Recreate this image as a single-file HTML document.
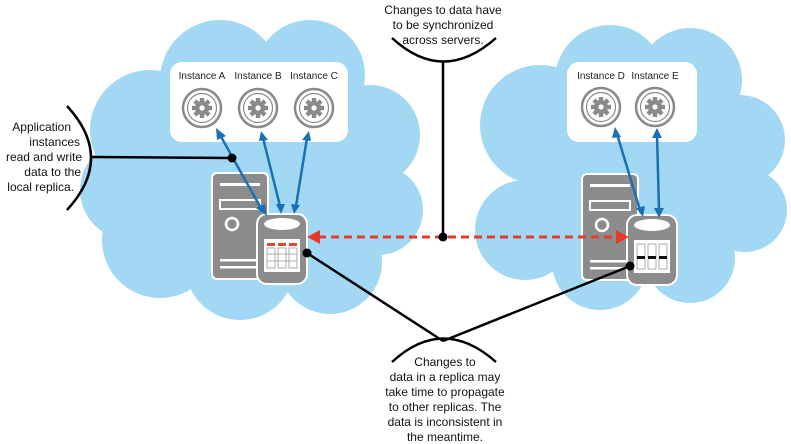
<!DOCTYPE html>
<html><head><meta charset="utf-8"><style>
html,body{margin:0;padding:0;background:#fff;}
svg{display:block;font-family:"Liberation Sans",sans-serif;}
</style></head><body>
<svg width="791" height="444" viewBox="0 0 791 444" xmlns="http://www.w3.org/2000/svg">
<defs>
<g id="gear">
<circle r="19" fill="#fff" stroke="#8a8a8a" stroke-width="2.5"/>
<circle r="14.5" fill="none" stroke="#8a8a8a" stroke-width="1.2"/>
<g fill="#8a8a8a">
<circle r="7"/>
<rect x="-2.2" y="-10" width="4.4" height="20"/>
<rect x="-2.2" y="-10" width="4.4" height="20" transform="rotate(45)"/>
<rect x="-2.2" y="-10" width="4.4" height="20" transform="rotate(90)"/>
<rect x="-2.2" y="-10" width="4.4" height="20" transform="rotate(135)"/>
</g>
<circle r="2.6" fill="#fff"/>
</g>
<g id="tower">
<rect x="0" y="0" width="56" height="106" rx="5" fill="#8c8c8c" stroke="#fff" stroke-width="2"/>
<rect x="8" y="10" width="40" height="3" fill="#fff"/>
<rect x="8" y="27" width="40" height="9" fill="none" stroke="#fff" stroke-width="2"/>
<circle cx="20" cy="51" r="6" fill="none" stroke="#fff" stroke-width="2.5"/>
<rect x="8" y="86" width="40" height="2.5" fill="#fff"/>
<rect x="8" y="93" width="40" height="2.5" fill="#fff"/>
</g>
</defs>
<g fill="#a3d8f4">
<circle cx="150" cy="130" r="60"/><circle cx="220" cy="80" r="60"/><circle cx="310" cy="75" r="55"/>
<circle cx="370" cy="135" r="50"/><circle cx="378" cy="210" r="45"/><circle cx="330" cy="262" r="52"/>
<circle cx="240" cy="265" r="55"/><circle cx="160" cy="240" r="58"/><circle cx="262" cy="170" r="110"/>
<circle cx="130" cy="190" r="50"/>
<circle cx="540" cy="125" r="60"/><circle cx="610" cy="80" r="55"/><circle cx="690" cy="80" r="52"/>
<circle cx="740" cy="140" r="45"/><circle cx="745" cy="210" r="42"/><circle cx="690" cy="258" r="45"/>
<circle cx="600" cy="262" r="48"/><circle cx="525" cy="230" r="50"/><circle cx="630" cy="170" r="110"/>
</g>
<rect x="170" y="62" width="178" height="80" rx="12" fill="#fff"/>
<rect x="567" y="62" width="130" height="80" rx="12" fill="#fff"/>
<g font-size="10" fill="#222" text-anchor="middle">
<text x="202" y="79">Instance A</text><text x="258" y="79">Instance B</text><text x="314" y="79">Instance C</text>
<text x="601" y="79">Instance D</text><text x="655" y="79">Instance E</text>
</g>
<use href="#gear" x="202" y="108"/><use href="#gear" x="258" y="108"/><use href="#gear" x="314" y="108"/>
<use href="#gear" x="601" y="107"/><use href="#gear" x="655" y="107"/>
<use href="#tower" x="212" y="173"/><use href="#tower" x="582" y="174"/>
<!-- cylinders -->
<g>
<rect x="257" y="214" width="50" height="70" rx="10" fill="#8c8c8c" stroke="#fff" stroke-width="2"/>
<ellipse cx="282" cy="224" rx="18" ry="6" fill="#fff"/>
<rect x="264" y="239" width="36" height="33" fill="#fff"/>
<g fill="#e24a33"><rect x="267" y="243" width="8" height="3"/><rect x="278" y="243" width="8" height="3"/><rect x="289" y="243" width="8" height="3"/></g>
<g fill="none" stroke="#999" stroke-width="0.8"><rect x="267" y="248" width="8" height="20"/><rect x="278" y="248" width="8" height="20"/><rect x="289" y="248" width="8" height="20"/><line x1="267" y1="254" x2="297" y2="254"/><line x1="267" y1="261" x2="297" y2="261"/></g>
</g>
<g>
<rect x="627" y="215" width="50" height="70" rx="10" fill="#8c8c8c" stroke="#fff" stroke-width="2"/>
<ellipse cx="652" cy="225" rx="18" ry="6" fill="#fff"/>
<rect x="634" y="240" width="36" height="33" fill="#fff"/>
<g fill="none" stroke="#999" stroke-width="0.8"><rect x="637" y="244" width="8" height="25"/><rect x="648" y="244" width="8" height="25"/><rect x="659" y="244" width="8" height="25"/></g>
<g fill="#111"><rect x="637" y="256" width="8" height="3"/><rect x="648" y="256" width="8" height="3"/><rect x="659" y="256" width="8" height="3"/></g>
</g>
<!-- blue arrows -->
<g stroke="#1a6fb5" stroke-width="2.5" fill="#1a6fb5">
<line x1="220" y1="135" x2="262" y2="210"/><line x1="263" y1="138" x2="280" y2="206"/><line x1="307" y1="138" x2="296" y2="206"/>
<line x1="617" y1="134" x2="640" y2="210"/><line x1="657" y1="135" x2="659" y2="210"/>
</g>
<g fill="#1a6fb5">
<polygon points="216,128 226,136 217,140"/><polygon points="267,216 256,208 265,204"/>
<polygon points="261,131 268,140 259,141"/><polygon points="281,214 276,204 285,204"/>
<polygon points="309,131 311,141 302,140"/><polygon points="294,214 291,204 300,205"/>
<polygon points="615,127 621,137 612,138"/><polygon points="643,217 636,208 645,206"/>
<polygon points="657,128 662,138 652,138"/><polygon points="659,218 654,208 664,208"/>
</g>
<!-- red dashed -->
<line x1="318" y1="237" x2="618" y2="237" stroke="#e53b2a" stroke-width="3" stroke-dasharray="8,5"/>
<polygon points="307,237 320,230 320,244" fill="#e53b2a"/>
<polygon points="629,237 616,230 616,244" fill="#e53b2a"/>
<!-- black callouts -->
<g stroke="#000" stroke-width="2.5" fill="none">
<line x1="443" y1="62" x2="443" y2="237"/>
<path d="M392,38 Q443,85 496,38"/>
<line x1="92" y1="157" x2="232" y2="158"/>
<path d="M67,106 Q115,158 67,210"/>
<line x1="307" y1="253" x2="443" y2="341"/>
<line x1="630" y1="266" x2="443" y2="341"/>
<path d="M392,362 Q443,315 496,362"/>
</g>
<g fill="#000"><circle cx="443" cy="237" r="4.5"/><circle cx="232" cy="158" r="4.5"/><circle cx="307" cy="253" r="4.5"/><circle cx="630" cy="266" r="4.5"/></g>
<g font-size="12" fill="#111" text-anchor="middle">
<text x="443" y="14">Changes to data have</text>
<text x="443" y="29">to be synchronized</text>
<text x="443" y="44">across servers.</text>
<text x="445" y="366">Changes to</text>
<text x="445" y="381">data in a replica may</text>
<text x="445" y="396">take time to propagate</text>
<text x="445" y="411">to other replicas. The</text>
<text x="445" y="426">data is inconsistent in</text>
<text x="445" y="441">the meantime.</text>
</g>
<g font-size="12" fill="#111" text-anchor="end">
<text x="71" y="131">Application</text>
<text x="80" y="146">instances</text>
<text x="82" y="161">read and write</text>
<text x="81" y="176">data to the</text>
<text x="74" y="191">local replica.</text>
</g>
</svg>
</body></html>
